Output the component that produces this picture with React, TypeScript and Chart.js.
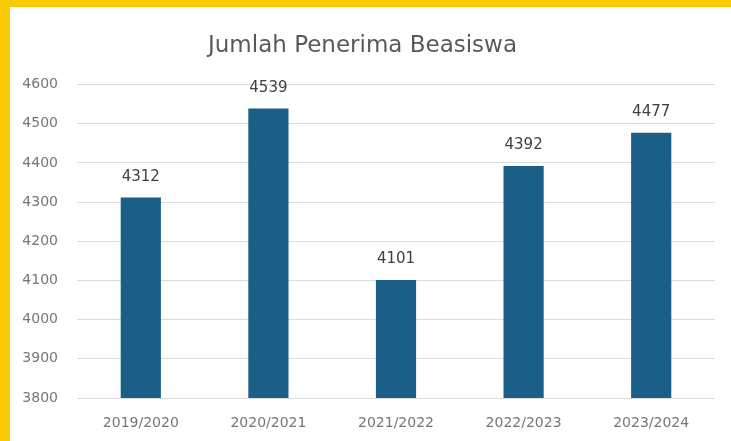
import React, { useEffect, useRef } from "react";
import { Chart, registerables } from "chart.js";

Chart.register(...registerables);

const categories = ["2019/2020", "2020/2021", "2021/2022", "2022/2023", "2023/2024"];
const values = [4312, 4539, 4101, 4392, 4477];
const yTicks = [3800, 3900, 4000, 4100, 4200, 4300, 4400, 4500, 4600];
const title = "Jumlah Penerima Beasiswa";

const FONT = "'DejaVu Sans', sans-serif";

const valueLabels = {
  id: "valueLabels",
  afterDatasetsDraw(chart: any) {
    const ctx = chart.ctx;
    const meta = chart.getDatasetMeta(0);
    ctx.save();
    ctx.font = `15px ${FONT}`;
    ctx.fillStyle = "#404040";
    ctx.textAlign = "center";
    ctx.textBaseline = "bottom";
    meta.data.forEach((bar: any, i: number) => {
      ctx.fillText(String(values[i]), bar.x, bar.y - 13);
    });
    ctx.restore();
  },
};

export default function App() {
  const ref = useRef<HTMLCanvasElement>(null);
  useEffect(() => {
    if (!ref.current) return;
    const chart = new Chart(ref.current, {
      type: "bar",
      data: {
        labels: categories,
        datasets: [
          {
            data: values,
            backgroundColor: "#1B5E86",
            categoryPercentage: 1,
            barPercentage: 0.315,
          },
        ],
      },
      options: {
        animation: false,
        responsive: false,
        layout: { padding: { top: 21, left: 10, right: 16, bottom: 0 } },
        plugins: {
          legend: { display: false },
          tooltip: { enabled: false },
          title: {
            display: true,
            text: title,
            color: "#595959",
            font: { family: FONT, size: 23, weight: "normal" },
            padding: { top: 11, bottom: 25 },
          },
        },
        scales: {
          x: {
            grid: { display: false, drawTicks: false },
            border: { display: false },
            ticks: {
              color: "#767676",
              font: { family: FONT, size: 14 },
              padding: 17,
            },
            afterFit(scale: any) {
              scale.height = 43;
            },
          },
          y: {
            min: 3800,
            max: 4600,
            afterBuildTicks(scale: any) {
              scale.ticks = yTicks.map((v) => ({ value: v }));
            },
            grid: { color: "#dcdcdc", drawTicks: false, lineWidth: 1 },
            border: { display: false },
            ticks: {
              color: "#767676",
              font: { family: FONT, size: 14 },
              padding: 19,
              callback: (v: any) => String(v),
            },
            afterFit(scale: any) {
              scale.width = 67;
            },
          },
        },
      },
      plugins: [valueLabels],
    });
    return () => chart.destroy();
  }, []);

  return (
    <div
      style={{
        position: "absolute",
        left: 0,
        top: 0,
        width: 731,
        height: 441,
        background: "#FACB05",
        overflow: "hidden",
      }}
    >
      <div
        style={{
          position: "absolute",
          left: 10,
          top: 7,
          right: 0,
          bottom: 0,
          background: "#ffffff",
        }}
      />
      <canvas
        ref={ref}
        width={731}
        height={441}
        style={{ position: "absolute", left: 0, top: 0, width: 731, height: 441 }}
      />
    </div>
  );
}
